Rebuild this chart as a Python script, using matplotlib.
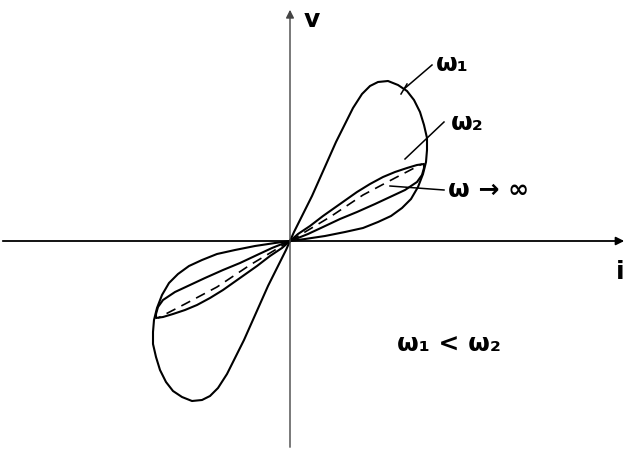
import numpy as np
import matplotlib.pyplot as plt

# upper-right lobe of the low-frequency loop (omega_1), traced origin -> top -> tip -> origin
w1_i = [0, .04, .08, .15, .22, .30, .38, .46, .55, .63, .72, .80, .88, .98, 1.08, 1.17,
        1.24, 1.30, 1.34, 1.37, 1.37, 1.36, 1.33, 1.28, 1.21, 1.12, 1.01, .88, .73, .55,
        .35, .15, 0]
w1_v = [0, .09, .17, .31, .45, .63, .81, .99, 1.17, 1.33, 1.47, 1.55, 1.59, 1.60, 1.56, 1.50,
        1.41, 1.29, 1.16, 1.03, .91, .79, .67, .54, .42, .33, .25, .19, .13, .09,
        .05, .02, 0]

# omega_2 loop, upper edge then lower edge
w2_i = [0, .08, .20, .33, .50, .67, .80, .93, 1.05, 1.17, 1.27, 1.34,
        1.34, 1.32, 1.27, 1.15, 1.00, .85, .67, .50, .33, .18, .08, 0]
w2_v = [0, .07, .15, .25, .37, .49, .57, .64, .69, .73, .76, .77,
        .73, .66, .59, .51, .44, .37, .29, .22, .14, .07, .03, 0]

# omega -> infinity: the loop collapses to a line
winf_i = [0, .40, .73, 1.05, 1.32]
winf_v = [0, .24, .46, .63, .77]

fig = plt.figure(figsize=(6.28, 4.5), dpi=100)
ax = fig.add_axes([0, 0, 1, 1])
ax.set_xlim(-2.90, 3.38)
ax.set_ylim(-2.09, 2.41)
ax.axis('off')

lw = 1.5
# axes with arrow heads
ax.annotate('', xy=(3.37, 0), xytext=(-2.90, 0),
            arrowprops=dict(arrowstyle='-|>', lw=1.3, color='k', mutation_scale=12))
ax.annotate('', xy=(0, 2.34), xytext=(0, -2.09),
            arrowprops=dict(arrowstyle='-|>', lw=1.0, color='#444', mutation_scale=12))

# both lobes: the lower-left one is the point reflection of the upper-right one
for sgn in (1, -1):
    ax.plot(sgn * np.array(w1_i), sgn * np.array(w1_v), color='k', lw=lw)
    ax.plot(sgn * np.array(w2_i), sgn * np.array(w2_v), color='k', lw=lw)
    ax.plot(sgn * np.array(winf_i), sgn * np.array(winf_v), color='k', lw=1.2,
            dashes=(6, 4))

fs = 18
tkw = dict(fontsize=fs, fontweight='bold', va='center')
# leaders and labels
ax.plot([1.14, 1.42], [1.52, 1.76], color='k', lw=1.1)
ax.plot([1.11, 1.17], [1.47, 1.57], color='k', lw=1.1)
ax.text(1.46, 1.77, 'ω₁', ha='left', **tkw)

ax.plot([1.15, 1.54], [.82, 1.19], color='k', lw=1.1)
ax.text(1.61, 1.18, 'ω₂', ha='left', **tkw)

ax.plot([1.00, 1.54], [.55, .51], color='k', lw=1.1)
ax.text(1.58, .51, 'ω → ∞', ha='left', **tkw)

ax.text(1.07, -1.03, 'ω₁ < ω₂', ha='left', **tkw)
ax.text(3.30, -.31, 'i', ha='center', **tkw)
ax.text(.22, 2.21, 'v', ha='center', **tkw)

fig.savefig('out.png', dpi=100)
